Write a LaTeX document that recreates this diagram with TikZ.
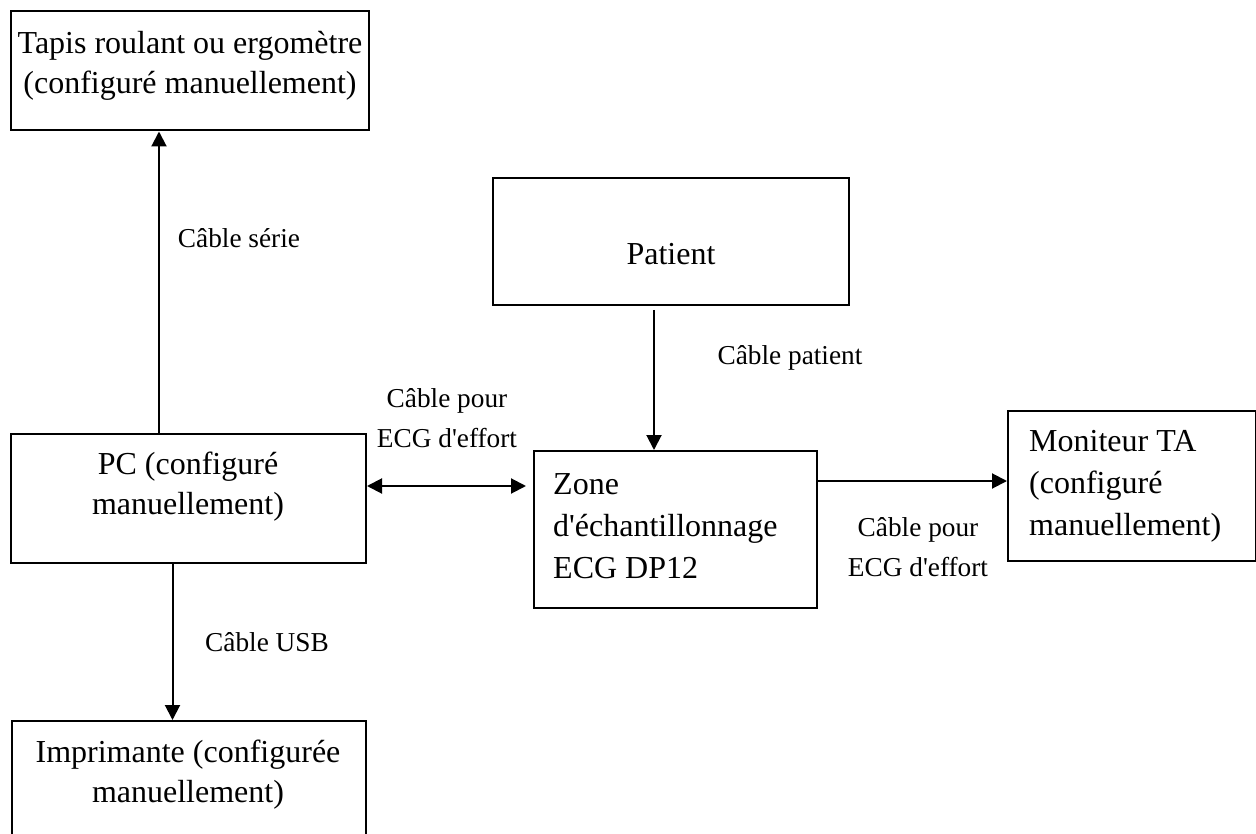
\documentclass[tikz,border=0pt]{standalone}
\usepackage{fontspec}
\setmainfont{Liberation Serif}[Ligatures=TeXOff]
\usetikzlibrary{arrows.meta}
\begin{document}
\begin{tikzpicture}[x=1pt,y=-1pt,
  bx/.style={draw=black,line width=2pt,inner sep=0pt},
  big/.style={font=\fontsize{32}{40}\selectfont,align=center,inner sep=0pt},
  bigl/.style={font=\fontsize{32}{42}\selectfont,align=left,inner sep=0pt,anchor=west},
  lab/.style={font=\fontsize{27.3}{40}\selectfont,align=center,inner sep=0pt},
  conn/.style={line width=2pt},
  tip/.style={-{Triangle[length=15pt,width=15pt]}},
  tips/.style={{Triangle[length=15pt,width=15pt]}-{Triangle[length=15pt,width=15pt]}}]
\useasboundingbox (0,0) rectangle (1256,834);
\fill[white] (0,0) rectangle (1256,834);
\node[bx,minimum width=358pt,minimum height=119pt] (tapis) at (190,71) {};
\node[big] (tapist) at (190,66) {Tapis roulant ou ergomètre\\(configuré manuellement)};
\node[bx,minimum width=356pt,minimum height=127pt] (patient) at (671,242) {};
\node[big] (patientt) at (671,254) {Patient};
\node[bx,minimum width=355pt,minimum height=129pt] (pc) at (188.5,498.5) {};
\node[big] (pct) at (188,487) {PC (configuré\\manuellement)};
\node[bx,minimum width=283pt,minimum height=157pt] (zone) at (675,529.5) {};
\node[bigl] (zonet) at (553,526) {Zone\\d'échantillonnage\\ECG DP12};
\node[bx,minimum width=248pt,minimum height=150pt] (moni) at (1132,486) {};
\node[bigl] (monit) at (1029,486) {Moniteur TA\\(configuré\\manuellement)};
\node[bx,minimum width=354pt,minimum height=128pt] (imp) at (189,785) {};
\node[big] (impt) at (188,775) {Imprimante (configurée\\manuellement)};
\node[lab] (l1) at (239,238) {Câble série};
\node[lab] (l2) at (790,358) {Câble patient};
\node[lab] (l3) at (447,418) {Câble pour\\ECG d'effort};
\node[lab] (l4) at (918,547) {Câble pour\\ECG d'effort};
\node[lab] (l5) at (267,642) {Câble USB};
\coordinate (pfree) at (654,310);
\coordinate (zfree) at (526,486);
\draw[conn,tip] (pc.north -| 159,0) -- (tapis.south -| 159,0);
\draw[conn,tip] (pfree) -- (zone.north -| pfree);
\draw[conn,tips] (pc.east |- zfree) -- (zfree);
\draw[conn,tip] (zone.east |- 0,481) -- (moni.west |- 0,481);
\draw[conn,tip] (pc.south -| 172.5,0) -- (imp.north -| 172.5,0);
\end{tikzpicture}
\end{document}
